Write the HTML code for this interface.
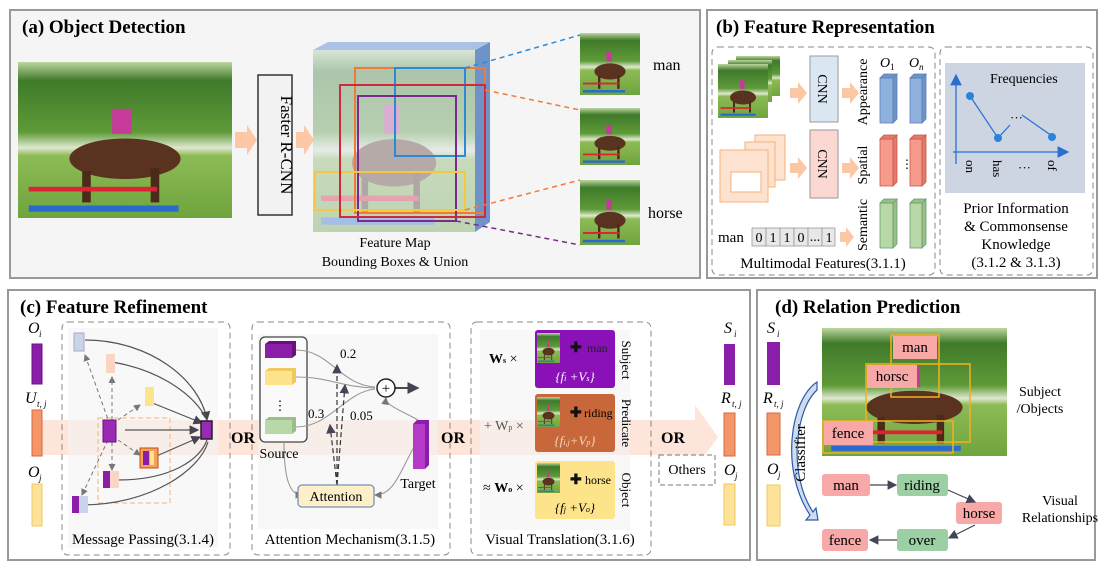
<!DOCTYPE html>
<html><head><meta charset="utf-8"><style>
body{margin:0;background:#fff;}
svg{display:block;font-family:"Liberation Serif",serif;}
</style></head><body>
<svg width="1103" height="568" viewBox="0 0 1103 568" xmlns="http://www.w3.org/2000/svg">
<defs>
<linearGradient id="ph" x1="0" y1="0" x2="0" y2="1">
<stop offset="0" stop-color="#bcd6a0"/><stop offset="0.12" stop-color="#3f7a2a"/><stop offset="0.45" stop-color="#5f9a38"/><stop offset="0.55" stop-color="#dfe8d0"/><stop offset="0.6" stop-color="#8dbb55"/><stop offset="1" stop-color="#6fa43e"/>
</linearGradient>
<g id="photo">
<rect x="0" y="0" width="100" height="100" fill="url(#ph)"/>
<ellipse cx="50" cy="62" rx="26" ry="13" fill="#5a3220"/>
<rect x="30" y="70" width="4" height="20" fill="#4a2a18"/><rect x="62" y="68" width="4" height="22" fill="#4a2a18"/>
<rect x="44" y="30" width="9" height="16" fill="#c63a9a"/>
<rect x="5" y="80" width="60" height="3" fill="#d23"/><rect x="5" y="92" width="70" height="4" fill="#2a6ad0"/>
</g>
<marker id="ah" markerWidth="8" markerHeight="8" refX="7" refY="4" orient="auto"><path d="M0,0 L8,4 L0,8z" fill="#445"/></marker>
<marker id="ahg" markerWidth="7" markerHeight="7" refX="6" refY="3.5" orient="auto"><path d="M0,0 L7,3.5 L0,7z" fill="#777"/></marker>
<marker id="ahb" markerWidth="9" markerHeight="9" refX="8" refY="4.5" orient="auto"><path d="M0,0 L9,4.5 L0,9z" fill="#2a6fd0"/></marker>
</defs>

<!-- Panel a -->
<rect x="10" y="10" width="690" height="268" fill="#f5f5f5" stroke="#999" stroke-width="2"/>
<text x="22" y="33" font-size="19" font-weight="bold">(a) Object Detection</text>
<use href="#photo" transform="translate(18,62) scale(2.14,1.56)"/>
<path d="M235,132 h12 v-7 l10,15 l-10,15 v-7 h-12z" fill="#fbc7a4"/>
<rect x="258" y="75" width="34" height="140" fill="#f2f2f2" stroke="#333" stroke-width="1.5"/>
<text transform="translate(281,145) rotate(90)" text-anchor="middle" font-size="17">Faster R-CNN</text>
<path d="M296,132 h8 v-7 l10,15 l-10,15 v-7 h-8z" fill="#fbc7a4"/>
<path d="M475,50 l15,-8 v180 l-15,10z" fill="#6f93c8"/>
<path d="M313,50 l15,-8 h162 l-15,8z" fill="#a9c2e6"/>
<g opacity="0.55"><use href="#photo" transform="translate(313,50) scale(1.62,1.82)"/></g>
<rect x="313" y="50" width="162" height="182" fill="#dfe8f4" opacity="0.35"/>
<rect x="355" y="68" width="130" height="145" fill="none" stroke="#f07a3a" stroke-width="2"/>
<rect x="395" y="68" width="70" height="88" fill="none" stroke="#2a8ad8" stroke-width="2"/>
<rect x="358" y="96" width="98" height="125" fill="none" stroke="#7a2a8a" stroke-width="2"/>
<rect x="315" y="172" width="150" height="38" fill="none" stroke="#f5c842" stroke-width="2"/>
<rect x="340" y="85" width="145" height="132" fill="none" stroke="#d02a3a" stroke-width="2"/>
<line x1="465" y1="68" x2="580" y2="35" stroke="#2a8ad8" stroke-width="1.5" stroke-dasharray="5,4"/>
<line x1="485" y1="90" x2="580" y2="110" stroke="#f07a3a" stroke-width="1.5" stroke-dasharray="5,4"/>
<line x1="465" y1="210" x2="580" y2="180" stroke="#f07a3a" stroke-width="1.5" stroke-dasharray="5,4"/>
<line x1="456" y1="221" x2="580" y2="245" stroke="#7a2a8a" stroke-width="1.5" stroke-dasharray="5,4"/>
<use href="#photo" transform="translate(580,33) scale(0.6,0.62)"/>
<use href="#photo" transform="translate(580,108) scale(0.6,0.57)"/>
<use href="#photo" transform="translate(580,180) scale(0.6,0.65)"/>
<text x="653" y="70" font-size="16">man</text>
<text x="648" y="218" font-size="16">horse</text>
<text x="395" y="247" font-size="14" text-anchor="middle">Feature Map</text>
<text x="395" y="266" font-size="14" text-anchor="middle">Bounding Boxes &amp; Union</text>

<!-- Panel b -->
<rect x="707" y="10" width="390" height="268" fill="#fff" stroke="#999" stroke-width="2"/>
<text x="716" y="33" font-size="19" font-weight="bold">(b) Feature Representation</text>
<rect x="712" y="47" width="223" height="228" rx="6" fill="none" stroke="#888" stroke-dasharray="6,4"/>
<rect x="940" y="47" width="153" height="228" rx="6" fill="none" stroke="#888" stroke-dasharray="6,4"/>
<use href="#photo" transform="translate(736,56) scale(0.44,0.4)"/>
<use href="#photo" transform="translate(728,60) scale(0.44,0.42)"/>
<use href="#photo" transform="translate(718,64) scale(0.5,0.54)"/>
<path d="M790,88 h8 v-6 l9,11 l-9,11 v-6 h-8z" fill="#fbc7a4"/>
<rect x="810" y="56" width="28" height="66" fill="#dbe6f3" stroke="#999"/>
<text transform="translate(818,89) rotate(90)" text-anchor="middle" font-size="14">CNN</text>
<path d="M842,88 h8 v-6 l9,11 l-9,11 v-6 h-8z" fill="#fbc7a4"/>
<rect x="755" y="135" width="30" height="45" fill="#fde3cf" stroke="#f7b07a"/>
<rect x="745" y="142" width="30" height="45" fill="#fde3cf" stroke="#f7b07a"/>
<rect x="720" y="150" width="48" height="52" fill="#fde3cf" stroke="#f7b07a"/>
<rect x="731" y="172" width="30" height="20" fill="#fff" stroke="#f7b07a"/>
<path d="M790,163 h8 v-6 l9,11 l-9,11 v-6 h-8z" fill="#fbc7a4"/>
<rect x="810" y="130" width="28" height="68" fill="#fcd8d2" stroke="#999"/>
<text transform="translate(818,164) rotate(90)" text-anchor="middle" font-size="14">CNN</text>
<path d="M842,163 h8 v-6 l9,11 l-9,11 v-6 h-8z" fill="#fbc7a4"/>
<text transform="translate(867,92) rotate(-90)" text-anchor="middle" font-size="14">Appearance</text>
<text transform="translate(867,165) rotate(-90)" text-anchor="middle" font-size="14">Spatial</text>
<text transform="translate(867,225) rotate(-90)" text-anchor="middle" font-size="14">Semantic</text>
<text x="880" y="67" font-size="14" font-style="italic">O</text><text x="890" y="70" font-size="9">1</text>
<text x="909" y="67" font-size="14" font-style="italic">O</text><text x="919" y="70" font-size="9" font-style="italic">n</text>
<g stroke="#5a7fb8" stroke-width="0.8">
<rect x="880" y="78" width="13" height="45" fill="#8fb1de"/><path d="M880,78 l4,-4 h13 l-4,4z M893,78 l4,-4 v45 l-4,4z" fill="#6e93c7"/>
<rect x="910" y="78" width="12" height="45" fill="#8fb1de"/><path d="M910,78 l4,-4 h12 l-4,4z M922,78 l4,-4 v45 l-4,4z" fill="#6e93c7"/>
</g>
<g stroke="#c45a4a" stroke-width="0.8">
<rect x="880" y="139" width="13" height="47" fill="#f69a8c"/><path d="M880,139 l4,-4 h13 l-4,4z M893,139 l4,-4 v47 l-4,4z" fill="#e67a6a"/>
<rect x="910" y="139" width="12" height="47" fill="#f69a8c"/><path d="M910,139 l4,-4 h12 l-4,4z M922,139 l4,-4 v47 l-4,4z" fill="#e67a6a"/>
</g>
<text x="901" y="168" font-size="12">⋮</text>
<g stroke="#6a9a6a" stroke-width="0.8">
<rect x="880" y="203" width="13" height="45" fill="#b8d8a8"/><path d="M880,203 l4,-4 h13 l-4,4z M893,203 l4,-4 v45 l-4,4z" fill="#98bf88"/>
<rect x="910" y="203" width="12" height="45" fill="#b8d8a8"/><path d="M910,203 l4,-4 h12 l-4,4z M922,203 l4,-4 v45 l-4,4z" fill="#98bf88"/>
</g>
<text x="718" y="242" font-size="15">man</text>
<g fill="#e8e8e8" stroke="#999" stroke-width="0.8">
<rect x="752" y="228" width="14" height="18"/><rect x="766" y="228" width="14" height="18"/><rect x="780" y="228" width="14" height="18"/><rect x="794" y="228" width="14" height="18"/><rect x="808" y="228" width="14" height="18"/><rect x="822" y="228" width="13" height="18"/>
</g>
<g font-size="14" text-anchor="middle"><text x="759" y="242">0</text><text x="773" y="242">1</text><text x="787" y="242">1</text><text x="801" y="242">0</text><text x="815" y="241">...</text><text x="829" y="242">1</text></g>
<path d="M840,232 h6 v-5 l8,10 l-8,10 v-5 h-6z" fill="#fbc7a4"/>
<text x="823" y="268" font-size="15" text-anchor="middle">Multimodal Features(3.1.1)</text>
<rect x="945" y="63" width="140" height="130" fill="#cdd5e3"/>
<line x1="956" y1="164" x2="956" y2="75" stroke="#2a6fd0" stroke-width="1.3" marker-end="url(#ahb)"/>
<line x1="953" y1="152" x2="1068" y2="152" stroke="#2a6fd0" stroke-width="1.3" marker-end="url(#ahb)"/>
<text x="990" y="83" font-size="14">Frequencies</text>
<polyline points="970,96 998,138 1010,125" fill="none" stroke="#2a6fd0" stroke-width="1.2"/>
<line x1="1022" y1="115" x2="1052" y2="136" stroke="#2a6fd0" stroke-width="1.2"/>
<circle cx="970" cy="96" r="4" fill="#2a85d8"/><circle cx="998" cy="138" r="4" fill="#2a85d8"/><circle cx="1052" cy="137" r="4" fill="#2a85d8"/>
<text x="1010" y="122" font-size="13">···</text>
<text transform="translate(966,160) rotate(90)" font-size="13">on</text>
<text transform="translate(993,160) rotate(90)" font-size="13">has</text>
<text x="1018" y="172" font-size="13">···</text>
<text transform="translate(1048,160) rotate(90)" font-size="13">of</text>
<g font-size="15" text-anchor="middle"><text x="1016" y="213">Prior Information</text><text x="1016" y="231">&amp; Commonsense</text><text x="1016" y="249">Knowledge</text><text x="1016" y="267">(3.1.2 &amp; 3.1.3)</text></g>

<!-- Panel c -->
<rect x="8" y="290" width="742" height="270" fill="#fff" stroke="#999" stroke-width="2"/>
<text x="20" y="313" font-size="19" font-weight="bold">(c) Feature Refinement</text>
<path d="M42,420 H695 V405 L718,437 L695,469 V455 H42z" fill="#fde2d2" opacity="0.85"/>
<rect x="62" y="322" width="168" height="233" rx="6" fill="none" stroke="#888" stroke-dasharray="6,4"/>
<rect x="252" y="322" width="198" height="233" rx="6" fill="none" stroke="#888" stroke-dasharray="6,4"/>
<rect x="471" y="322" width="180" height="233" rx="6" fill="none" stroke="#888" stroke-dasharray="6,4"/>
<text x="28" y="333" font-size="16" font-style="italic">O</text><text x="39" y="337" font-size="9" font-style="italic">i</text>
<rect x="32" y="344" width="10" height="40" fill="#8a1ea8" stroke="#6a1080"/>
<text x="25" y="403" font-size="16" font-style="italic">U</text><text x="37" y="407" font-size="9" font-style="italic">t, j</text>
<rect x="32" y="410" width="10" height="46" fill="#f5956a" stroke="#d46a3a"/>
<text x="28" y="477" font-size="16" font-style="italic">O</text><text x="39" y="481" font-size="9" font-style="italic">j</text>
<rect x="32" y="484" width="10" height="42" fill="#fde39a" stroke="#f0c860"/>
<!-- message passing -->
<rect x="68" y="328" width="150" height="220" fill="#f4f4f4" opacity="0.6"/>
<rect x="98" y="418" width="72" height="85" fill="none" stroke="#f7b07a" stroke-dasharray="5,3"/>
<g fill="none" stroke="#555" stroke-width="1.2">
<path d="M85,340 C150,340 200,380 207,420" marker-end="url(#ah)"/>
<path d="M112,362 C160,370 195,395 207,420"/>
<path d="M150,402 L202,423" marker-end="url(#ah)"/>
<path d="M125,430 L198,430" marker-end="url(#ah)"/>
<path d="M152,458 L200,437" marker-end="url(#ah)"/>
<path d="M118,480 C170,480 200,460 207,440"/>
<path d="M82,505 C150,505 200,470 208,442"/>
</g>
<g fill="none" stroke="#777" stroke-width="1" stroke-dasharray="4,3">
<path d="M110,425 L85,355" marker-end="url(#ahg)"/><path d="M112,420 L112,377" marker-end="url(#ahg)"/>
<path d="M118,420 L140,405" marker-end="url(#ahg)"/><path d="M118,440 L140,455" marker-end="url(#ahg)"/>
<path d="M112,442 L112,470" marker-end="url(#ahg)"/><path d="M108,440 L82,495" marker-end="url(#ahg)"/>
</g>
<rect x="74" y="333" width="10" height="18" fill="#c9d3ea" stroke="#aab"/>
<rect x="106" y="354" width="9" height="19" fill="#fbd5c3"/>
<rect x="145" y="387" width="9" height="19" fill="#fde38a"/>
<rect x="103" y="420" width="13" height="22" fill="#9a2ab5" stroke="#6a1080"/>
<rect x="140" y="448" width="18" height="20" fill="#f7a05a" stroke="#c05010"/><rect x="143" y="451" width="6" height="14" fill="#8a1ea8"/><rect x="150" y="451" width="4" height="14" fill="#fde38a"/>
<rect x="103" y="471" width="16" height="17" fill="#fbd5c3"/><rect x="103" y="471" width="7" height="17" fill="#8a1ea8"/>
<rect x="72" y="496" width="16" height="17" fill="#c9d3ea"/><rect x="72" y="496" width="7" height="17" fill="#8a1ea8"/>
<rect x="201" y="421" width="11" height="18" fill="#9a2ab5" stroke="#222" stroke-width="1.5"/>
<text x="143" y="544" font-size="15" text-anchor="middle">Message Passing(3.1.4)</text>
<text x="243" y="443" font-size="16" font-weight="bold" text-anchor="middle">OR</text>
<!-- attention -->
<rect x="258" y="334" width="180" height="195" fill="#f3f3f3" opacity="0.6"/>
<rect x="260" y="337" width="47" height="105" rx="5" fill="#fafafa" stroke="#444" stroke-width="1.3"/>
<rect x="265" y="344" width="27" height="14" fill="#8a1ea8"/><path d="M265,344 l4,-3 h27 l-4,3z M292,344 l4,-3 v14 l-4,3z" fill="#6a1080"/>
<rect x="265" y="371" width="27" height="14" fill="#fde38a"/><path d="M265,371 l4,-3 h27 l-4,3z M292,371 l4,-3 v14 l-4,3z" fill="#f0c860"/>
<text x="280" y="410" font-size="13" text-anchor="middle">⋮</text>
<rect x="265" y="420" width="27" height="14" fill="#b8d8a8"/><path d="M265,420 l4,-3 h27 l-4,3z M292,420 l4,-3 v14 l-4,3z" fill="#98bf88"/>
<g fill="none" stroke="#999" stroke-width="1.1">
<path d="M296,350 C330,350 340,385 375,387"/><path d="M296,377 C330,377 340,387 375,388"/>
<path d="M296,427 C330,427 345,392 375,389"/>
<path d="M284,442 C284,480 290,495 302,495" marker-end="url(#ahg)"/>
<path d="M418,440 C400,470 395,495 375,495" marker-end="url(#ahg)"/>
<path d="M418,420 C400,410 385,405 386,398" marker-end="url(#ahg)"/>
</g>
<g fill="none" stroke="#333" stroke-width="1.2" stroke-dasharray="5,3">
<path d="M337,485 L337,365" marker-end="url(#ah)"/><path d="M337,485 L330,425" marker-end="url(#ah)"/><path d="M337,485 L345,385" marker-end="url(#ah)"/>
</g>
<circle cx="386" cy="388" r="9" fill="#fff" stroke="#222" stroke-width="1.5"/>
<text x="386" y="393" font-size="15" text-anchor="middle">+</text>
<line x1="395" y1="388" x2="418" y2="388" stroke="#111" stroke-width="1.5" marker-end="url(#ah)"/>
<text x="340" y="358" font-size="13">0.2</text><text x="308" y="418" font-size="13">0.3</text><text x="350" y="420" font-size="13">0.05</text>
<rect x="413" y="424" width="12" height="45" fill="#b43ac8"/><path d="M413,424 l4,-4 h12 l-4,4z M425,424 l4,-4 v45 l-4,4z" fill="#8a1ea8"/>
<text x="279" y="458" font-size="14" text-anchor="middle">Source</text>
<text x="418" y="488" font-size="14" text-anchor="middle">Target</text>
<rect x="298" y="485" width="76" height="22" rx="4" fill="#fdf0c8" stroke="#7a90b8" stroke-width="1.3"/>
<text x="336" y="501" font-size="14" text-anchor="middle">Attention</text>
<text x="350" y="544" font-size="15" text-anchor="middle">Attention Mechanism(3.1.5)</text>
<text x="453" y="443" font-size="16" font-weight="bold" text-anchor="middle">OR</text>
<!-- visual translation -->
<rect x="480" y="330" width="150" height="200" fill="#f3f3f3" opacity="0.6"/>
<rect x="535" y="330" width="80" height="58" rx="3" fill="#8a10b8"/>
<use href="#photo" transform="translate(537,333) scale(0.23,0.3)"/>
<text x="570" y="352" font-size="14" font-weight="bold" fill="#111">✚</text><text x="587" y="352" font-size="12" fill="#222">man</text>
<text x="575" y="381" font-size="13" text-anchor="middle" fill="#fff" font-style="italic">{f<tspan font-size="8">i</tspan> +V<tspan font-size="8">s</tspan>}</text>
<rect x="535" y="394" width="80" height="58" rx="3" fill="#c8683a"/>
<use href="#photo" transform="translate(537,397) scale(0.23,0.3)"/>
<text x="570" y="417" font-size="14" font-weight="bold" fill="#111">✚</text><text x="584" y="417" font-size="12">riding</text>
<text x="575" y="445" font-size="13" text-anchor="middle" fill="#f5d8c0" font-style="italic">{f<tspan font-size="8">i,j</tspan>+V<tspan font-size="8">p</tspan>}</text>
<rect x="535" y="461" width="80" height="58" rx="3" fill="#fde38a"/>
<use href="#photo" transform="translate(537,463) scale(0.23,0.3)"/>
<text x="570" y="484" font-size="14" font-weight="bold" fill="#111">✚</text><text x="585" y="484" font-size="12">horse</text>
<text x="575" y="512" font-size="13" text-anchor="middle" font-style="italic">{f<tspan font-size="8">j</tspan> +V<tspan font-size="8">o</tspan>}</text>
<text x="489" y="363" font-size="14" font-weight="bold">W<tspan font-size="8">s</tspan><tspan font-weight="normal"> ×</tspan></text>
<text x="484" y="430" font-size="14" fill="#555">+ W<tspan font-size="8">p</tspan> ×</text>
<text x="483" y="492" font-size="14">≈ <tspan font-weight="bold">W<tspan font-size="8">o</tspan></tspan> ×</text>
<text transform="translate(622,360) rotate(90)" font-size="13" text-anchor="middle">Subject</text>
<text transform="translate(622,423) rotate(90)" font-size="13" text-anchor="middle">Predicate</text>
<text transform="translate(622,490) rotate(90)" font-size="13" text-anchor="middle">Object</text>
<text x="560" y="544" font-size="15" text-anchor="middle">Visual Translation(3.1.6)</text>
<text x="673" y="443" font-size="16" font-weight="bold" text-anchor="middle">OR</text>
<rect x="659" y="455" width="56" height="30" fill="#fff" stroke="#777" stroke-dasharray="5,3"/>
<text x="687" y="474" font-size="14" text-anchor="middle">Others</text>
<text x="724" y="333" font-size="16" font-style="italic">S</text><text x="734" y="337" font-size="9" font-style="italic">i</text>
<rect x="724" y="344" width="11" height="41" fill="#8a1ea8"/>
<text x="721" y="403" font-size="16" font-style="italic">R</text><text x="732" y="407" font-size="9" font-style="italic">t, j</text>
<rect x="724" y="413" width="11" height="43" fill="#f5956a" stroke="#d46a3a"/>
<text x="724" y="475" font-size="16" font-style="italic">O</text><text x="735" y="479" font-size="9" font-style="italic">j</text>
<rect x="724" y="484" width="11" height="41" fill="#fde39a" stroke="#f0c860"/>

<!-- Panel d -->
<rect x="757" y="290" width="338" height="270" fill="#fff" stroke="#999" stroke-width="2"/>
<text x="775" y="313" font-size="19" font-weight="bold">(d) Relation Prediction</text>
<text x="767" y="333" font-size="16" font-style="italic">S</text><text x="777" y="337" font-size="9" font-style="italic">i</text>
<rect x="767" y="342" width="13" height="43" fill="#8a1ea8"/>
<text x="763" y="403" font-size="16" font-style="italic">R</text><text x="774" y="407" font-size="9" font-style="italic">t, j</text>
<rect x="767" y="413" width="13" height="42" fill="#f5956a" stroke="#d46a3a"/>
<text x="767" y="474" font-size="16" font-style="italic">O</text><text x="778" y="478" font-size="9" font-style="italic">j</text>
<rect x="767" y="485" width="13" height="41" fill="#fde39a" stroke="#f0c860"/>
<use href="#photo" transform="translate(822,328) scale(1.85,1.28)"/>
<rect x="891" y="335" width="48" height="62" fill="none" stroke="#f5b020" stroke-width="1.5"/>
<rect x="866" y="364" width="104" height="78" fill="none" stroke="#f5b020" stroke-width="1.5"/>
<rect x="823" y="421" width="130" height="32" fill="none" stroke="#f5b020" stroke-width="1.5"/>
<rect x="893" y="336" width="44" height="23" fill="#f9a8a8"/><text x="915" y="352" font-size="15" text-anchor="middle">man</text>
<rect x="867" y="365" width="50" height="23" fill="#f9a8a8"/><text x="892" y="381" font-size="15" text-anchor="middle">horsc</text>
<rect x="824" y="421" width="49" height="24" fill="#f9a8a8"/><text x="848" y="438" font-size="15" text-anchor="middle">fence</text>
<text x="1040" y="396" font-size="14" text-anchor="middle">Subject</text>
<text x="1040" y="413" font-size="14" text-anchor="middle">/Objects</text>
<path d="M817,382 C790,400 780,470 810,515 L806,520 L818,520 L816,508 L813,512 C788,475 795,410 817,390z" fill="#cfdcf0" stroke="#2a5aa8" stroke-width="1.2"/>
<text transform="translate(805,453) rotate(-90)" font-size="15" text-anchor="middle">Classifier</text>
<rect x="822" y="474" width="48" height="22" rx="3" fill="#f9a8a8"/><text x="846" y="490" font-size="15" text-anchor="middle">man</text>
<rect x="897" y="474" width="51" height="22" rx="3" fill="#9cd0a4"/><text x="922" y="490" font-size="15" text-anchor="middle">riding</text>
<rect x="956" y="502" width="46" height="22" rx="3" fill="#f9a8a8"/><text x="979" y="518" font-size="15" text-anchor="middle">horse</text>
<rect x="897" y="529" width="51" height="22" rx="3" fill="#9cd0a4"/><text x="922" y="545" font-size="15" text-anchor="middle">over</text>
<rect x="822" y="529" width="46" height="22" rx="3" fill="#f9a8a8"/><text x="845" y="545" font-size="15" text-anchor="middle">fence</text>
<g stroke="#445" stroke-width="1.2" fill="none">
<line x1="870" y1="485" x2="896" y2="485" marker-end="url(#ah)"/>
<line x1="948" y1="490" x2="975" y2="502" marker-end="url(#ah)"/>
<line x1="975" y1="525" x2="949" y2="538" marker-end="url(#ah)"/>
<line x1="897" y1="540" x2="870" y2="540" marker-end="url(#ah)"/>
</g>
<text x="1060" y="505" font-size="14" text-anchor="middle">Visual</text>
<text x="1060" y="522" font-size="14" text-anchor="middle">Relationships</text>
</svg>
</body></html>
